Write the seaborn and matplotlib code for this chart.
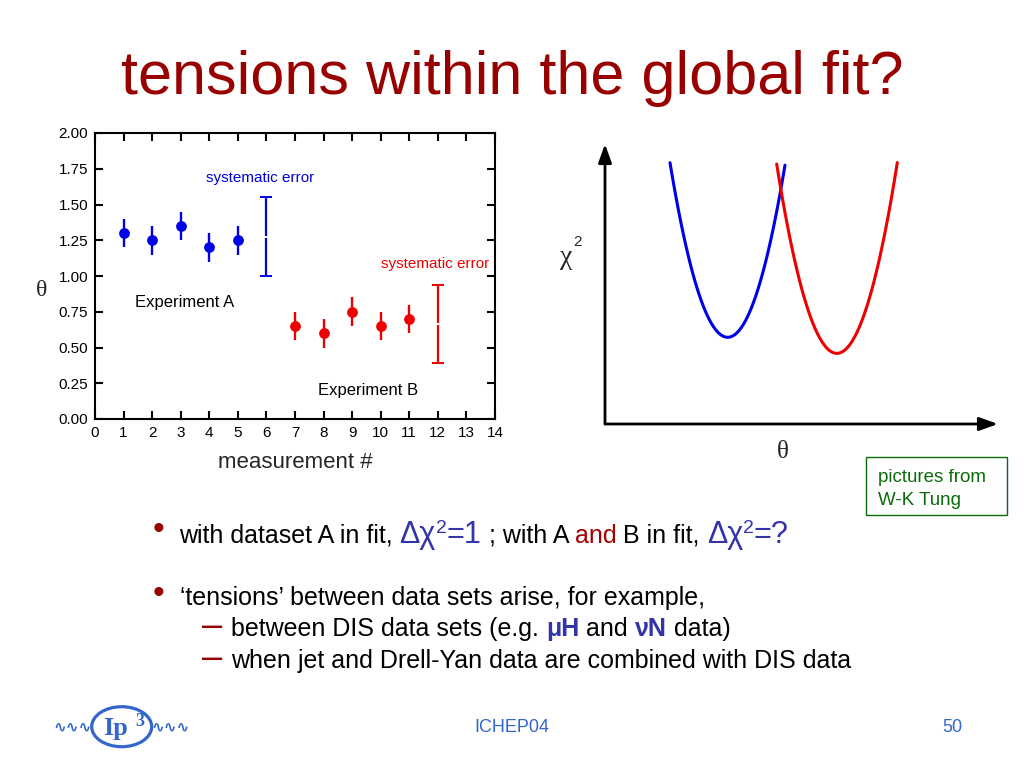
import matplotlib
matplotlib.use('Agg')
import matplotlib.pyplot as plt
import seaborn as sns
from matplotlib.patches import Ellipse, Rectangle

# --- datos: grafico de la izquierda (theta vs medicion) ---
meas_a = [1, 2, 3, 4, 5]
theta_a = [1.30, 1.25, 1.35, 1.20, 1.25]
err_a = [0.10, 0.10, 0.10, 0.10, 0.10]
meas_b = [7, 8, 9, 10, 11]
theta_b = [0.65, 0.60, 0.75, 0.65, 0.70]
err_b = [0.10, 0.10, 0.10, 0.10, 0.10]
sys_x = [6, 12]
sys_lo = [1.00, 0.39]
sys_hi = [1.55, 0.94]
x_ticks = list(range(0, 15))
y_ticks = [0.00, 0.25, 0.50, 0.75, 1.00, 1.25, 1.50, 1.75, 2.00]

# --- datos: curvas chi2 ---
chi_a_x = [1.654, 2.163, 2.685, 3.137, 3.591, 4.097, 4.580]
chi_a_y = [9.31, 5.75, 3.71, 3.12, 3.71, 5.75, 9.31]
chi_b_x = [4.369, 4.837, 5.412, 5.896, 6.379, 6.954, 7.438]
chi_b_y = [9.31, 5.75, 3.21, 2.50, 3.21, 5.75, 9.31]

BLUE = '#0000e6'
RED = '#ee0000'
DARKRED = '#990000'
MATHBLUE = '#3333aa'
GREEN = '#0b6b0b'
FOOTBLUE = '#3366cc'

sns.set_theme(style='white')
plt.rcParams['font.family'] = ['Liberation Sans', 'DejaVu Sans']
SERIF = ['Liberation Serif', 'DejaVu Serif']

fig = plt.figure(figsize=(10.24, 7.68), dpi=100)

# capa de fondo en pixeles para textos de la diapositiva
bg = fig.add_axes([0, 0, 1, 1], zorder=-1)
bg.set_xlim(0, 1024)
bg.set_ylim(768, 0)
bg.axis('off')

# 1. Grafico de la izquierda
ax1 = fig.add_axes([95 / 1024, 1 - 419 / 768, 400 / 1024, 286 / 768])
sns.scatterplot(x=meas_a, y=theta_a, color=BLUE, s=60, linewidth=0, ax=ax1, zorder=3)
sns.scatterplot(x=meas_b, y=theta_b, color=RED, s=60, linewidth=0, ax=ax1, zorder=3)
ax1.errorbar(meas_a, theta_a, yerr=err_a, fmt='none', ecolor=BLUE, elinewidth=1.7, capsize=0)
ax1.errorbar(meas_b, theta_b, yerr=err_b, fmt='none', ecolor=RED, elinewidth=1.7, capsize=0)

sys_mid = [(lo + hi) / 2 for lo, hi in zip(sys_lo, sys_hi)]
sys_err = [(hi - lo) / 2 for lo, hi in zip(sys_lo, sys_hi)]
for x, m, e, c in zip(sys_x, sys_mid, sys_err, [BLUE, RED]):
    ax1.errorbar([x], [m], yerr=[e], fmt='_', ms=5, mew=1.4, mfc='white', mec='white',
                 ecolor=c, elinewidth=1.6, capsize=4.5, capthick=1.6)

ax1.set_xlim(0, 14)
ax1.set_ylim(0, 2)
ax1.set_xticks(x_ticks)
ax1.set_xticklabels([str(t) for t in x_ticks])
ax1.set_yticks(y_ticks)
ax1.set_yticklabels(['{:.2f}'.format(t) for t in y_ticks])
ax1.tick_params(direction='in', length=6, width=1.5, top=True, right=True, bottom=True,
                left=True, labelsize=11, colors='black', pad=5)
for sp in ax1.spines.values():
    sp.set_linewidth(1.5)
    sp.set_color('black')

ax1.text(5.78, 1.685, 'systematic error', color=BLUE, fontsize=11, ha='center', va='center')
ax1.text(11.89, 1.084, 'systematic error', color=RED, fontsize=11, ha='center', va='center')
ax1.text(3.15, 0.813, 'Experiment A', color='black', fontsize=12, ha='center', va='center')
ax1.text(9.54, 0.198, 'Experiment B', color='black', fontsize=12, ha='center', va='center')

bg.text(295, 463, 'measurement #', fontsize=16, ha='center', va='center')
bg.text(42, 290, 'θ', family=SERIF, fontsize=17, ha='center', va='center')

# 2. Grafico de la derecha (chi2 vs theta)
ax2 = fig.add_axes([605 / 1024, 1 - 424 / 768, 393 / 1024, 280 / 768])
ax2.set_xlim(0, 10)
ax2.set_ylim(0, 10)
ax2.axis('off')
sns.regplot(x=chi_a_x, y=chi_a_y, order=2, ci=None, scatter=False, truncate=True,
            color=BLUE, line_kws={'lw': 2.2}, ax=ax2)
sns.regplot(x=chi_b_x, y=chi_b_y, order=2, ci=None, scatter=False, truncate=True,
            color=RED, line_kws={'lw': 2.2}, ax=ax2)
arrow = dict(arrowstyle='-|>,head_length=0.7,head_width=0.25', lw=2, color='black',
             mutation_scale=16, shrinkA=0, shrinkB=0)
ax2.annotate('', xy=(10, 0), xytext=(0, 0), arrowprops=arrow, annotation_clip=False)
ax2.annotate('', xy=(0, 10), xytext=(0, 0), arrowprops=arrow, annotation_clip=False)

bg.text(566, 258, 'χ', family=SERIF, fontsize=20, ha='center', va='center')
bg.text(578, 242, '2', fontsize=11, ha='center', va='center')
bg.text(783, 452, 'θ', family=SERIF, fontsize=18, ha='center', va='center')

bg.add_patch(Rectangle((866, 457), 141, 58, fill=False, edgecolor=GREEN, lw=1))
bg.text(878, 482, 'pictures from', color=GREEN, fontsize=13.5, va='baseline')
bg.text(878, 505, 'W-K Tung', color=GREEN, fontsize=13.5, va='baseline')

# 3. Titulo y texto de la diapositiva
bg.text(512, 94, 'tensions within the global fit?', color=DARKRED, fontsize=44,
        ha='center', va='baseline')

renderer = fig.canvas.get_renderer()


def ancho(s, **kw):
    t = bg.text(0, 0, '|' + s + '|', **kw)
    w = t.get_window_extent(renderer).width
    t.remove()
    t = bg.text(0, 0, '||', **kw)
    w -= t.get_window_extent(renderer).width
    t.remove()
    return w


def linea(x, y, partes):
    for s, kw in partes:
        kw = dict(kw)
        dy = kw.pop('dy', 0)
        bg.text(x, y - dy, s, va='baseline', ha='left', **kw)
        x += ancho(s, **kw)


txt = {'fontsize': 18, 'color': 'black'}
big = {'fontsize': 22, 'color': MATHBLUE}
sup = {'fontsize': 14, 'color': MATHBLUE, 'dy': 10}
bold = {'fontsize': 18, 'color': MATHBLUE, 'fontweight': 'bold'}

bg.text(158, 531, '•', color=DARKRED, fontsize=24, ha='center', va='center')
linea(179, 543, [('with dataset A in fit, ', txt), ('Δχ', big), ('2', sup), ('=1', big),
                 (' ; with A ', txt), ('and', {'fontsize': 18, 'color': '#aa0000'}),
                 (' B in fit, ', txt), ('Δχ', big), ('2', sup), ('=?', big)])

bg.text(158, 594, '•', color=DARKRED, fontsize=24, ha='center', va='center')
linea(180, 605, [('‘tensions’ between data sets arise, for example,', txt)])

bg.text(202, 636, '–', color=DARKRED, fontsize=26, ha='left', va='baseline')
linea(231, 636, [('between DIS data sets (e.g. ', txt), ('μH', bold), (' and ', txt),
                 ('νN', bold), (' data)', txt)])
bg.text(202, 668, '–', color=DARKRED, fontsize=26, ha='left', va='baseline')
linea(231, 668, [('when jet and Drell-Yan data are combined with DIS data', txt)])

# 4. Pie de pagina y logo
bg.text(512, 727, 'ICHEP04', color=FOOTBLUE, fontsize=13, ha='center', va='center')
bg.text(952, 727, '50', color=FOOTBLUE, fontsize=13, ha='center', va='center')
bg.add_patch(Ellipse((121.7, 726.7), 60, 40, fill=False, edgecolor=FOOTBLUE, lw=2.3))
bg.text(116, 728, 'Ip', family=SERIF, fontweight='bold', fontsize=19, color=FOOTBLUE,
        ha='center', va='center')
bg.text(140, 721, '3', family=SERIF, fontweight='bold', fontsize=13, color=FOOTBLUE,
        ha='center', va='center')
bg.text(92, 727, '∿∿∿', family=['DejaVu Sans'], fontsize=11, fontweight='bold',
        color=FOOTBLUE, ha='right', va='center')
bg.text(151, 727, '∿∿∿', family=['DejaVu Sans'], fontsize=11, fontweight='bold',
        color=FOOTBLUE, ha='left', va='center')

fig.savefig('out.png', dpi=100)
